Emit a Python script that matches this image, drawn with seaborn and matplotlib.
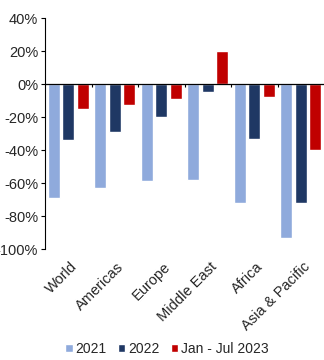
import numpy as np
import pandas as pd
import matplotlib
matplotlib.use("Agg")
import matplotlib.pyplot as plt
import matplotlib.transforms as mtransforms
import seaborn as sns

regions = ["World", "Americas", "Europe", "Middle East", "Africa", "Asia & Pacific"]
periods = ["2021", "2022", "Jan - Jul 2023"]
change_2021 = [-69, -63, -59, -58, -72, -93]
change_2022 = [-34, -29, -20, -5, -33, -72]
change_2023 = [-15, -13, -9, 20, -8, -40]
colors = ["#8FAADC", "#1F3864", "#C00000"]
y_ticks = [40, 20, 0, -20, -40, -60, -80, -100]

df = pd.DataFrame({
    "region": regions * 3,
    "period": np.repeat(periods, len(regions)),
    "value": change_2021 + change_2022 + change_2023,
})

sns.set_style("white")
plt.rcParams["font.family"] = ["Liberation Sans", "DejaVu Sans"]
plt.rcParams["font.size"] = 10.5

fig = plt.figure(figsize=(3.24, 3.6), dpi=100)
ax = fig.add_axes([0.139, 0.308, 0.861, 0.642])

sns.barplot(data=df, x="region", y="value", hue="period", order=regions,
            hue_order=periods, palette=colors, width=0.94, gap=0.17,
            saturation=1, ax=ax, legend=True)

ax.set_ylim(-100, 40)
ax.set_xlim(-0.5, len(regions) - 0.5)
ax.set_yticks(y_ticks)
ax.set_yticklabels([f"{t}%" for t in y_ticks])
ax.tick_params(axis="y", length=3, width=0.8, color="black", pad=2,
               direction="out", left=True)
ax.set_xlabel("")
ax.set_ylabel("")

for side in ["top", "right", "bottom"]:
    ax.spines[side].set_visible(False)
ax.spines["left"].set_color("black")
ax.spines["left"].set_linewidth(0.8)

# zero line with small category separator ticks hanging below it
ax.axhline(0, color="black", lw=0.9, zorder=3)
ax.vlines(np.arange(0.5, len(regions) - 1), -2, 0, color="black", lw=0.8, zorder=3)

# rotated category labels below the plot area
ax.set_xticks(range(len(regions)))
ax.set_xticklabels([])
ax.tick_params(axis="x", length=0)
trans = mtransforms.blended_transform_factory(ax.transData, ax.transAxes)
for i, name in enumerate(regions):
    ax.text(i + 0.04, -0.045, name, transform=trans, rotation=45,
            ha="right", va="top", rotation_mode="anchor", fontsize=10.5)

handles, labels = ax.get_legend_handles_labels()
ax.legend_.remove()
fig.legend(handles, labels, loc="center", bbox_to_anchor=(0.515, 0.03),
           ncol=3, frameon=False, handlelength=0.55, handleheight=0.55,
           handletextpad=0.2, columnspacing=0.8, fontsize=10)

fig.savefig("out.png", dpi=100)
